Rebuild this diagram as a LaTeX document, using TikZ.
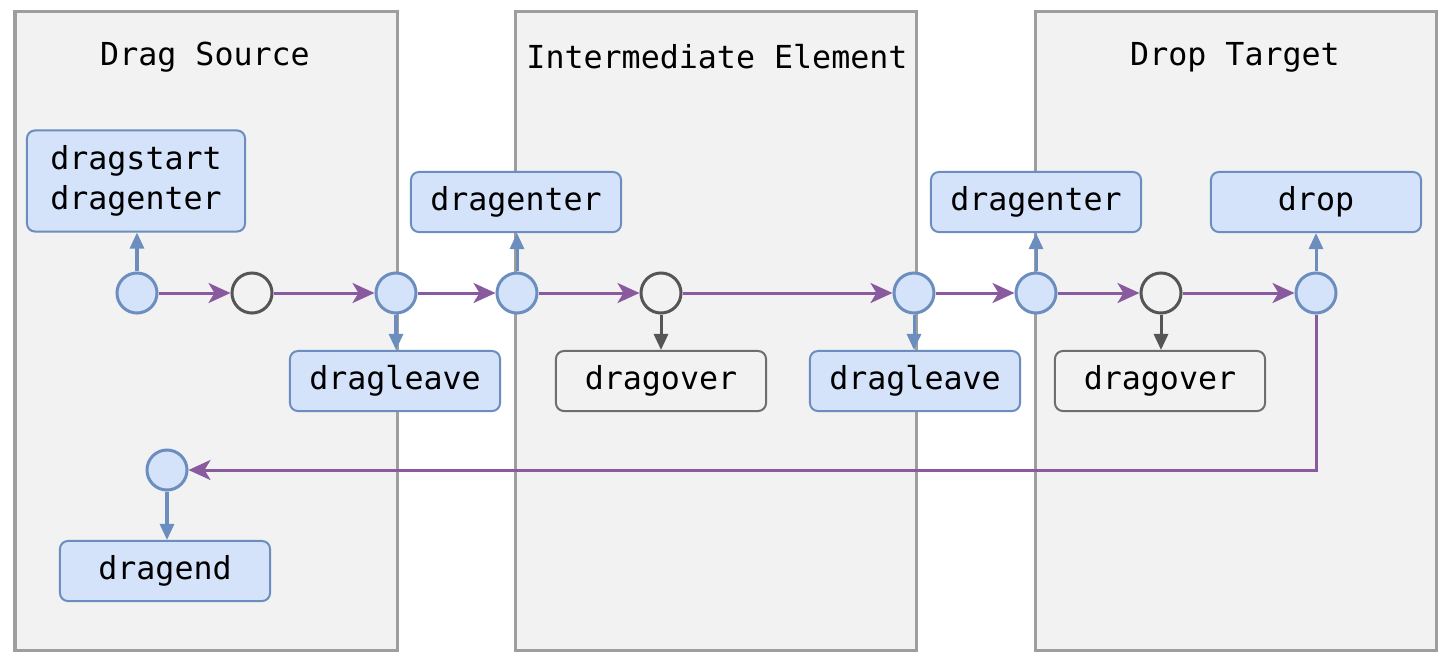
\documentclass[tikz,border=0pt]{standalone}
\usepackage{fontspec}
\setmonofont{DejaVu Sans Mono}
\usetikzlibrary{arrows.meta}
\definecolor{lanegray}{HTML}{F2F2F2}
\definecolor{laneline}{HTML}{9E9E9E}
\definecolor{evfill}{HTML}{D4E3FA}
\definecolor{evline}{HTML}{6C8EBF}
\definecolor{flowline}{HTML}{8A5A9E}
\definecolor{idleline}{HTML}{555555}
\tikzset{
	lane/.style={draw=laneline, line width=0.3mm, fill=lanegray},
	lanetitle/.style={font=\ttfamily\fontsize{9}{11}\selectfont},
	evbox/.style={draw=evline, fill=evfill, rounded corners=0.8mm, line width=0.2mm, minimum width=2.1cm, minimum height=0.6cm, font=\ttfamily\fontsize{9}{11.5}\selectfont, align=center},
	idlebox/.style={evbox, draw=idleline!85, fill=lanegray},
	evdot/.style={circle, draw=evline, fill=evfill, line width=0.3mm, minimum size=0.4cm, inner sep=0pt},
	idledot/.style={evdot, draw=idleline, fill=lanegray},
	flow/.style={draw=flowline, line width=0.3mm, -{Stealth[length=2.2mm,width=2mm,inset=0.6mm]}},
	fire/.style={draw=evline, line width=0.3mm, -{Triangle[length=1.6mm,width=1.4mm]}},
	idlefire/.style={fire, draw=idleline}
}
\begin{document}
\begin{tikzpicture}[x=0.01cm, y=-0.01cm]
		%%%%% START %%%%%
		\useasboundingbox (0, 0) rectangle (1450, 666);
		
		\draw[lane] (15, 11) rectangle (397, 650);
		\draw[lane] (515, 11) rectangle (916, 650);
		\draw[lane] (1035, 11) rectangle (1436, 650);
		
		\node[lanetitle] (srctitle) at (205, 57) {Drag Source};
		\node[lanetitle] (midtitle) at (717, 57) {Intermediate Element};
		\node[lanetitle] (dsttitle) at (1235, 57) {Drop Target};
		
		\node[evdot] (start) at (137, 293) {};
		\node[idledot] (srcover) at (252, 293) {};
		\node[evdot] (srcleave) at (396, 293) {};
		\node[evdot] (midenter) at (517, 293) {};
		\node[idledot] (midover) at (661, 293) {};
		\node[evdot] (midleave) at (914, 293) {};
		\node[evdot] (dstenter) at (1036, 293) {};
		\node[idledot] (dstover) at (1161, 293) {};
		\node[evdot] (dstdrop) at (1316, 293) {};
		\node[evdot] (finish) at (167, 470) {};
		
		\node[evbox, minimum width=2.18cm, minimum height=1.01cm] (startbox) at (136, 181) {dragstart\\dragenter};
		\node[evbox] (srcleavebox) at (395, 381) {dragleave};
		\node[evbox] (midenterbox) at (516, 202) {dragenter};
		\node[idlebox] (midoverbox) at (661, 381) {dragover};
		\node[evbox] (midleavebox) at (915, 381) {dragleave};
		\node[evbox] (dstenterbox) at (1036, 202) {dragenter};
		\node[idlebox] (dstoverbox) at (1160, 381) {dragover};
		\node[evbox] (dropbox) at (1316, 202) {drop};
		\node[evbox] (finishbox) at (165, 571) {dragend};
		
		\draw[flow] (start) -- (srcover);
		\draw[flow] (srcover) -- (srcleave);
		\draw[flow] (srcleave) -- (midenter);
		\draw[flow] (midenter) -- (midover);
		\draw[flow] (midover) -- (midleave);
		\draw[flow] (midleave) -- (dstenter);
		\draw[flow] (dstenter) -- (dstover);
		\draw[flow] (dstover) -- (dstdrop);
		\draw[flow] (dstdrop) -- (dstdrop |- finish) -- (finish);
		
		\draw[fire] (start) -- (start |- startbox.south);
		\draw[fire] (srcleave) -- (srcleave |- srcleavebox.north);
		\draw[fire] (midenter) -- (midenter |- midenterbox.south);
		\draw[idlefire] (midover) -- (midover |- midoverbox.north);
		\draw[fire] (midleave) -- (midleave |- midleavebox.north);
		\draw[fire] (dstenter) -- (dstenter |- dstenterbox.south);
		\draw[idlefire] (dstover) -- (dstover |- dstoverbox.north);
		\draw[fire] (dstdrop) -- (dstdrop |- dropbox.south);
		\draw[fire] (finish) -- (finish |- finishbox.north);
		
		%%%%% END %%%%%
	\end{tikzpicture}
\end{document}
